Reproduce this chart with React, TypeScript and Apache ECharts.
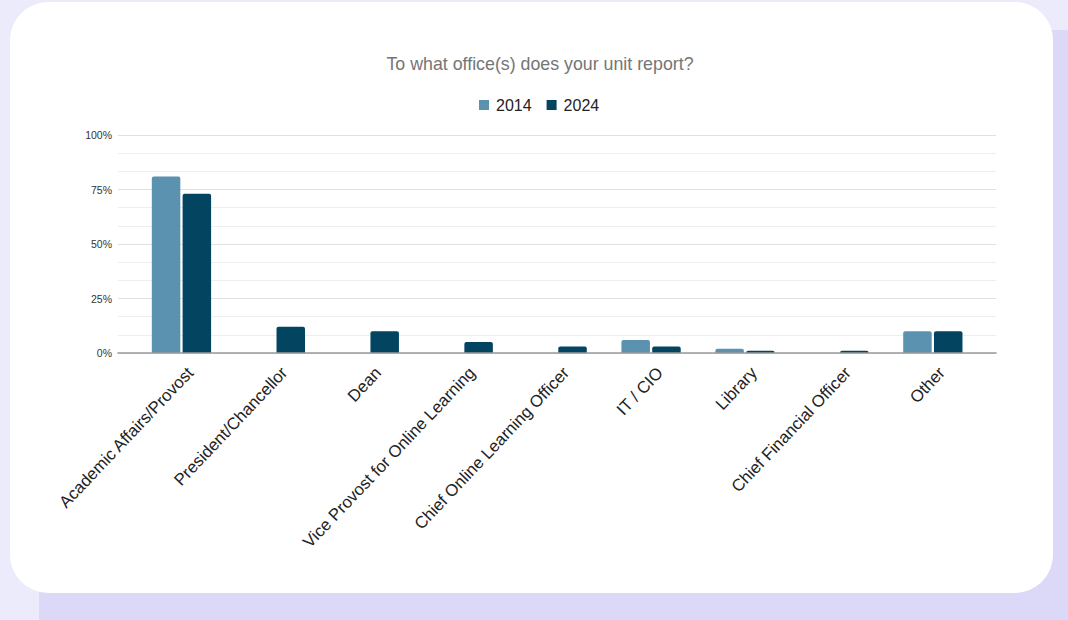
import React, { useEffect, useRef } from "react";
import * as echarts from "echarts";

const categories = [
  "Academic Affairs/Provost",
  "President/Chancellor",
  "Dean",
  "Vice Provost for Online Learning",
  "Chief Online Learning Officer",
  "IT / CIO",
  "Library",
  "Chief Financial Officer",
  "Other",
];
const values2014 = [81, 0, 0, 0, 0, 6, 2, 0, 10];
const values2024 = [73, 12, 10, 5, 3, 3, 1, 1, 10];
const seriesNames = ["2014", "2024"];
const yTicks = [0, 25, 50, 75, 100];

const FONT = "'Liberation Sans', Arial, sans-serif";
const C2014 = "#5b92b0";
const C2024 = "#034560";

export default function App() {
  const ref = useRef<HTMLDivElement>(null);
  useEffect(() => {
    if (!ref.current) return;
    const chart = echarts.init(ref.current, null, { renderer: "svg" });
    const top = 135;
    const bottom = 620 - 353;
    const barLeft = 134.5;
    const barRight = 1068 - 979.8;
    const labelDx = 9;
    chart.setOption({
      animation: false,
      backgroundColor: "transparent",
      title: {
        text: "To what office(s) does your unit report?",
        left: 535,
        top: 50,
        textAlign: "center",
        textStyle: { fontFamily: FONT, fontSize: 17.8, fontWeight: "normal", color: "#757575" },
      },
      legend: {
        left: 474,
        top: 92,
        itemWidth: 10,
        itemHeight: 10,
        itemGap: 15,
        icon: "rect",
        data: seriesNames,
        textStyle: { fontFamily: FONT, fontSize: 16, color: "#222", padding: [0, 0, 0, 2] },
      },
      grid: [
        { left: 118, right: 1068 - 996, top, bottom, containLabel: false },
        { left: barLeft, right: barRight, top, bottom, containLabel: false },
        { left: barLeft + labelDx, right: barRight - labelDx, top, bottom, containLabel: false },
      ],
      xAxis: [
        {
          gridIndex: 0,
          type: "value",
          min: 0,
          max: 1,
          axisLine: { show: true, onZero: true, lineStyle: { color: "#9a9a9a", width: 1.6 } },
          axisTick: { show: false },
          axisLabel: { show: false },
          splitLine: { show: false },
          z: 5,
        },
        {
          gridIndex: 1,
          type: "category",
          data: categories,
          axisLine: { show: false },
          axisTick: { show: false },
          axisLabel: { show: false },
        },
        {
          gridIndex: 2,
          type: "category",
          data: categories,
          axisLine: { show: false },
          axisTick: { show: false },
          axisLabel: {
            rotate: 46.5,
            interval: 0,
            margin: 17,
            fontFamily: FONT,
            fontSize: 16.8,
            color: "#222",
          },
        },
      ],
      yAxis: [
        {
          gridIndex: 0,
          type: "value",
          min: yTicks[0],
          max: yTicks[yTicks.length - 1],
          interval: 25,
          axisLine: { show: false },
          axisTick: { show: false },
          axisLabel: {
            formatter: "{value}%",
            fontFamily: FONT,
            fontSize: 10.5,
            color: "#333",
            margin: 6,
          },
          splitLine: { show: true, lineStyle: { color: "#e0e0e0", width: 1.2 } },
          minorTick: { show: false, splitNumber: 3 },
          minorSplitLine: { show: true, lineStyle: { color: "#eeeeee", width: 1 } },
        },
        { gridIndex: 1, type: "value", min: 0, max: 100, show: false },
        { gridIndex: 2, type: "value", min: 0, max: 100, show: false },
      ],
      series: [
        {
          name: seriesNames[0],
          type: "bar",
          xAxisIndex: 1,
          yAxisIndex: 1,
          data: values2014,
          barWidth: 28.5,
          barGap: "8%",
          itemStyle: { color: C2014, borderRadius: [2, 2, 0, 0] },
        },
        {
          name: seriesNames[1],
          type: "bar",
          xAxisIndex: 1,
          yAxisIndex: 1,
          data: values2024,
          barWidth: 28.5,
          barGap: "8%",
          itemStyle: { color: C2024, borderRadius: [2, 2, 0, 0] },
        },
      ],
    });
    return () => chart.dispose();
  }, []);

  return (
    <div
      style={{
        position: "fixed",
        left: 0,
        top: 0,
        width: 1068,
        height: 620,
        background: "#ecebfb",
        overflow: "hidden",
      }}
    >
      <div
        style={{
          position: "absolute",
          left: 39,
          top: 30,
          width: 1100,
          height: 640,
          background: "#dcd8f8",
          borderRadius: 32,
        }}
      />
      <div
        style={{
          position: "absolute",
          left: 10,
          top: 2,
          width: 1043,
          height: 591,
          background: "#ffffff",
          borderRadius: 38,
        }}
      />
      <div ref={ref} style={{ position: "absolute", left: 0, top: 0, width: 1068, height: 620 }} />
    </div>
  );
}
